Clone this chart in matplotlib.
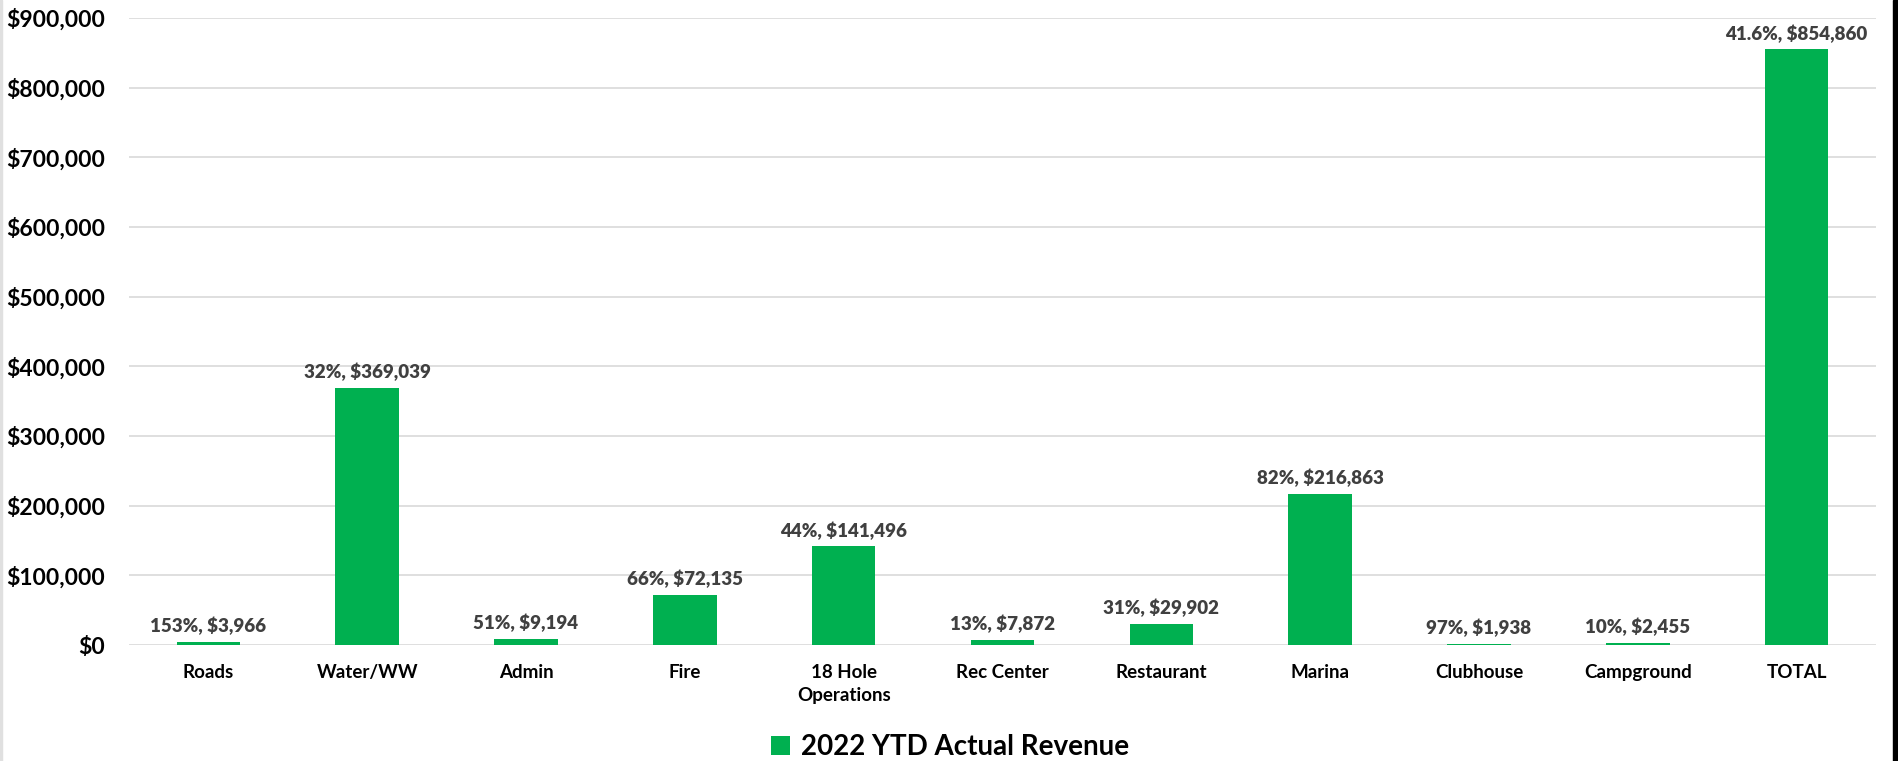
import matplotlib
matplotlib.use("Agg")
import matplotlib.pyplot as plt
from matplotlib.patches import Rectangle
from matplotlib.ticker import FuncFormatter

categories = ['Roads', 'Water/WW', 'Admin', 'Fire', '18 Hole\nOperations', 'Rec Center',
              'Restaurant', 'Marina', 'Clubhouse', 'Campground', 'TOTAL']
revenue = [3966, 369039, 9194, 72135, 141496, 7872, 29902, 216863, 1938, 2455, 854860]
pct_labels = ['153%', '32%', '51%', '66%', '44%', '13%', '31%', '82%', '97%', '10%', '41.6%']
series_name = '2022 YTD Actual Revenue'

green = '#00B050'
plt.rcParams['font.family'] = ['Lato', 'DejaVu Sans']

W, H = 1898, 761
fig = plt.figure(figsize=(W / 100, H / 100), dpi=100)
ax = fig.add_axes([129 / W, 116 / H, (1876 - 129) / W, (645 - 18) / H])

x = range(len(categories))
bars = ax.bar(x, revenue, width=0.4, color=green, label=series_name, zorder=3)

for xi, v, p in zip(x, revenue, pct_labels):
    ax.annotate(f'{p}, ${v:,}', (xi, v), xytext=(0, 7), textcoords='offset points',
                ha='center', va='baseline', fontsize=13.5, fontweight='heavy', color='#404040')

ax.set_xlim(-0.5, len(categories) - 0.5)
ax.set_ylim(0, 900000)
ax.set_yticks(range(0, 900001, 100000))
ax.yaxis.set_major_formatter(FuncFormatter(lambda v, _: f'${v:,.0f}'))
ax.set_xticks(list(x))
ax.set_xticklabels(categories, fontsize=13.5, fontweight='bold', linespacing=1.4)
for lab in ax.get_yticklabels():
    lab.set_fontsize(16.5)
    lab.set_fontweight('bold')
ax.tick_params(axis='y', length=0, pad=17)
ax.tick_params(axis='x', length=0, pad=14)
ax.grid(axis='y', color='#D9D9D9', linewidth=1.2, zorder=0)
for s in ax.spines.values():
    s.set_visible(False)

fig.legend(handles=[bars], labels=[series_name], loc='center',
           bbox_to_anchor=(950 / W, 1 - 747 / H), frameon=False,
           prop={'size': 20, 'weight': 'bold'}, handlelength=0.7, handleheight=0.7,
           handletextpad=0.4)

# right edge dark strip and faint left border
fig.add_artist(Rectangle((1893 / W, 0), 5 / W, 1, transform=fig.transFigure,
                         color='black', zorder=10))
fig.add_artist(Rectangle((0, 0), 2 / W, 1, transform=fig.transFigure,
                         color='#E0E0E0', zorder=10))

fig.savefig('out.png', dpi=100)
